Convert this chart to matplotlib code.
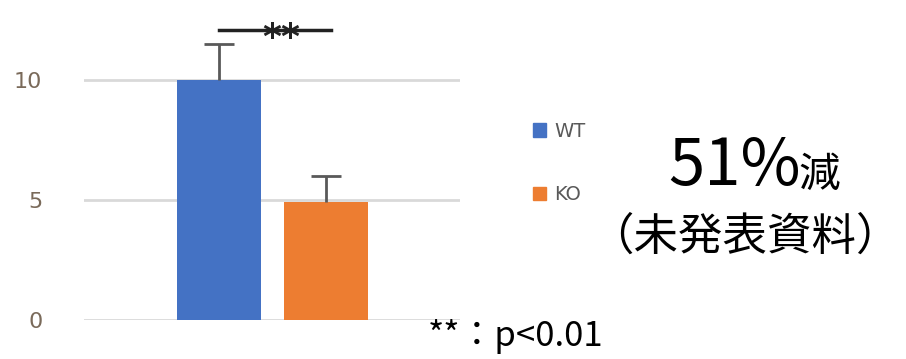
import matplotlib
matplotlib.use("Agg")
import matplotlib.pyplot as plt
from matplotlib.patches import Patch

plt.rcParams['font.family'] = ['Noto Sans CJK JP', 'DejaVu Sans']

groups = ["WT", "KO"]
means = [10.0, 4.9]
errors = [1.5, 1.1]
colors = ["#4472C4", "#ED7D31"]
yticks = [0, 5, 10]
sig_mark = "**"
sig_note = "**：p<0.01"
headline = "51%"
headline_suffix = "減"
subtitle = "（未発表資料）"

W, H = 906, 359
fig = plt.figure(figsize=(W / 100, H / 100), dpi=100)
ax = fig.add_axes([84 / W, 1 - 320 / H, (460 - 84) / W, (320 - 8) / H])

x = [0, 1]
ax.bar(x, means, width=0.78, color=colors, zorder=3)
eb = ax.errorbar(x, means, yerr=[[0, 0], errors], fmt="none", ecolor="#595959",
                 elinewidth=2, capsize=11, capthick=2, zorder=4)
# keep only the upper caps
caps = eb.lines[1]
if len(caps) == 2:
    caps[0].set_visible(False)

ax.set_xlim(-1.26, 2.25)
ax.set_ylim(0, 13)
ax.set_yticks(yticks)
ax.set_yticklabels([str(t) for t in yticks], color="#7a6a5a", fontsize=16,
                   fontfamily="DejaVu Sans")
ax.tick_params(axis="y", length=0, pad=30)
ax.set_xticks([])
ax.grid(axis="y", color="#d9d9d9", linewidth=2, zorder=0)
for s in ax.spines.values():
    s.set_visible(False)

# significance bracket between the two bars
y_sig = 12.1
ax.plot([x[0], x[1] + 0.05], [y_sig, y_sig], color="#222222", lw=2.5,
        zorder=5, clip_on=False)
ax.text(0.58, y_sig - 0.35, sig_mark, ha="center", va="center", fontsize=26,
        color="#222222", fontfamily="DejaVu Sans", fontweight="bold")

handles = [Patch(color=c, label=g) for g, c in zip(groups, colors)]
leg = fig.legend(handles=handles, loc="center left",
                 bbox_to_anchor=(515 / W, 1 - 163 / H), frameon=False,
                 handlelength=0.7, handleheight=0.7, handletextpad=0.4,
                 labelspacing=2.3, prop={"family": "DejaVu Sans", "size": 14})
for t in leg.get_texts():
    t.set_color("#595959")

fig.text(668 / W, 1 - 167 / H, headline, fontsize=47, va="center", ha="left",
         color="black")
fig.text(798 / W, 1 - 175 / H, headline_suffix, fontsize=30, va="center",
         ha="left", color="black")
fig.text(745 / W, 1 - 237 / H, subtitle, fontsize=32, va="center",
         ha="center", color="black")
fig.text(428 / W, 1 - 336 / H, sig_note, fontsize=25, va="center",
         ha="left", color="black")

fig.savefig("out.png", dpi=100)
